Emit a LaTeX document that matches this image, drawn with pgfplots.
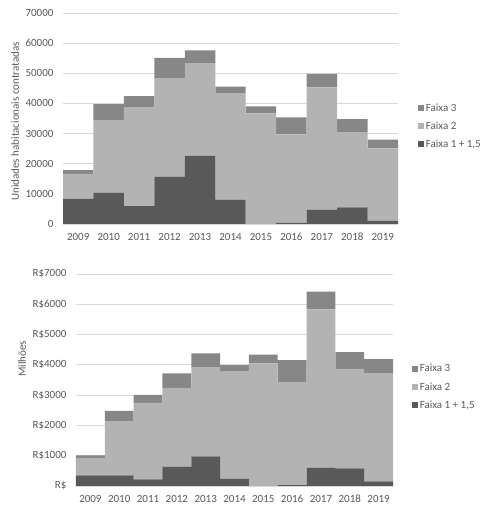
\documentclass[border=0pt]{standalone}
\usepackage{fontspec}
\setmainfont{Carlito}
\usepackage{pgfplots}
\pgfplotsset{compat=1.18}

\definecolor{fone}{HTML}{595959}
\definecolor{ftwo}{HTML}{B3B3B3}
\definecolor{fthree}{HTML}{878787}
\definecolor{txt}{HTML}{595959}
\definecolor{grd}{HTML}{D9D9D9}

\pgfplotsset{
  mcmv/.style={
    scale only axis,
    ybar stacked,
    bar width=1,
    xmin=-0.5, xmax=10.5, ymin=0, ymax=7000,
    xtick={0,1,2,3,4,5,6,7,8,9,10},
    xticklabels={2009,2010,2011,2012,2013,2014,2015,2016,2017,2018,2019},
    axis x line*=bottom,
    axis y line*=left,
    x axis line style={draw=grd, line width=0.8pt, -},
    y axis line style={draw=none},
    major tick length=0pt,
    ymajorgrids,
    grid style={draw=grd, line width=0.8pt},
    tick label style={font=\fontsize{11}{13}\selectfont, text=txt},
    xticklabel style={anchor=north, text height=8pt, text depth=2pt, yshift=-5pt},
    yticklabel style={xshift=-6pt},
    label style={font=\fontsize{11}{13}\selectfont, text=txt},
    /pgf/number format/assume math mode=true,
    /pgf/number format/1000 sep={},
    scaled y ticks=false,
    reverse legend,
    legend style={draw=none, fill=none, font=\fontsize{11}{13}\selectfont,
      text=txt, row sep=5pt, cells={anchor=west}, inner sep=0pt},
    legend image code/.code={\fill[##1, draw=none] (0pt,-2.8pt) rectangle (5.6pt,2.8pt);},
    every axis plot/.append style={draw=none},
  }
}

\begin{document}
\begin{tikzpicture}
\path[use as bounding box] (0pt,0pt) rectangle (491pt,514pt);

% unidades contratadas
\begin{axis}[mcmv,
  at={(63pt,290pt)}, anchor=south west,
  width=335pt, height=211pt,
  ymax=70000, ytick={0,10000,20000,30000,40000,50000,60000,70000},
  ylabel={Unidades habitacionais contratadas},
  ylabel style={at={(axis description cs:-0.143,0.486)}, anchor=center},
  legend style={at={(1.06,0.464)}, anchor=west},
]
\addplot[fill=fone] coordinates {(0,8300) (1,10400) (2,5900) (3,15700) (4,22700) (5,8100) (6,0) (7,400) (8,4800) (9,5500) (10,1000)};
\addplot[fill=ftwo] coordinates {(0,8300) (1,24100) (2,32900) (3,32700) (4,30700) (5,35300) (6,36700) (7,29300) (8,40500) (9,25000) (10,24100)};
\addplot[fill=fthree] coordinates {(0,1300) (1,5300) (2,3600) (3,6700) (4,4200) (5,2200) (6,2300) (7,5700) (8,4500) (9,4300) (10,2900)};
\legend{{Faixa 1 + 1,5}, Faixa 2, Faixa 3}
\end{axis}

% valores em milhoes
\begin{axis}[mcmv,
  at={(76pt,28pt)}, anchor=south west,
  width=317pt, height=212pt,
  ymax=7000, ytick={0,1000,2000,3000,4000,5000,6000,7000},
  yticklabels={R\$, R\$1000, R\$2000, R\$3000, R\$4000, R\$5000, R\$6000, R\$7000},
  ylabel={Milhões},
  ylabel style={at={(axis description cs:-0.17,0.6)}, anchor=center},
  legend style={at={(1.06,0.467)}, anchor=west},
]
\addplot[fill=fone] coordinates {(0,350) (1,350) (2,220) (3,640) (4,980) (5,240) (6,0) (7,30) (8,610) (9,580) (10,150)};
\addplot[fill=ftwo] coordinates {(0,550) (1,1790) (2,2525) (3,2600) (4,2930) (5,3550) (6,4050) (7,3410) (8,5220) (9,3290) (10,3580)};
\addplot[fill=fthree] coordinates {(0,110) (1,340) (2,265) (3,480) (4,470) (5,200) (6,290) (7,720) (8,590) (9,550) (10,460)};
\legend{{Faixa 1 + 1,5}, Faixa 2, Faixa 3}
\end{axis}
\end{tikzpicture}
\end{document}
